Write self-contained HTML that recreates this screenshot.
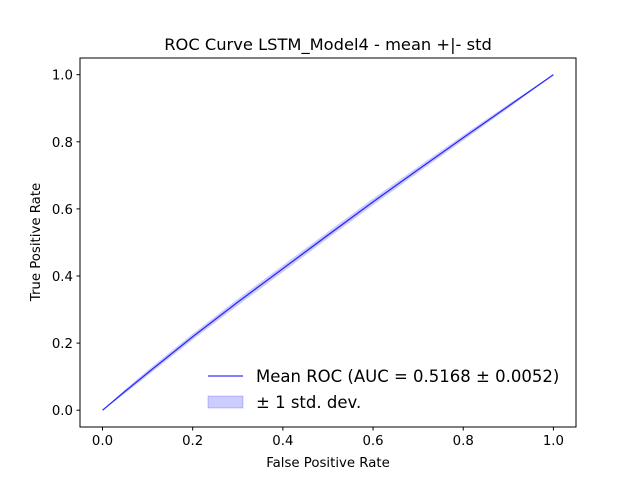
<!DOCTYPE html>
<html><head><meta charset="utf-8"><style>
body{margin:0;background:#fff}
svg{display:block;font-family:"DejaVu Sans","Liberation Sans",sans-serif}
</style></head><body>
<svg id="chart" width="640" height="480" viewBox="0 0 640 480">
<rect x="0" y="0" width="640" height="480" fill="#fff"/>
<text x="328" y="50" text-anchor="middle" font-size="16.3">ROC Curve LSTM_Model4 - mean +|- std</text>
<g id="plot"></g>
<rect x="80" y="58" width="496" height="369" fill="none" stroke="#000" stroke-width="1"/>
<text x="328" y="467" text-anchor="middle" font-size="13.3">False Positive Rate</text>
<text x="40" y="242" text-anchor="middle" font-size="13.3" transform="rotate(-90 40 242)">True Positive Rate</text>
<g>
<line x1="208" y1="376" x2="243" y2="376" stroke="#0000ff" stroke-opacity="0.8" stroke-width="1.3"/>
<text x="256" y="382" font-size="16.5">Mean ROC (AUC = 0.5168 ± 0.0052)</text>
<rect x="208" y="396" width="35" height="12" fill="#0000ff" fill-opacity="0.2" stroke="#0000ff" stroke-opacity="0.2"/>
<text x="256" y="408" font-size="16.5">± 1 std. dev.</text>
</g>
</svg>
<script>
const fpr=[0,0.05,0.1,0.2,0.3,0.4,0.5,0.6,0.7,0.8,0.9,1];
const tpr=[0,0.056,0.111,0.219,0.322,0.422,0.522,0.621,0.717,0.812,0.906,1];
const tprStd=[0,0.006,0.008,0.009,0.01,0.01,0.01,0.01,0.009,0.008,0.006,0];
const xTicks=[0,0.2,0.4,0.6,0.8,1.0];
const yTicks=[0,0.2,0.4,0.6,0.8,1.0];
const X=v=>102.5+v*450.9, Y=v=>410.2-v*335.5;
const ns="http://www.w3.org/2000/svg", g=document.getElementById('plot');
function mk(t,a){const e=document.createElementNS(ns,t);for(const k in a)e.setAttribute(k,a[k]);g.appendChild(e);return e;}
let up=fpr.map((f,i)=>X(f)+','+Y(Math.min(1,tpr[i]+tprStd[i])));
let lo=fpr.map((f,i)=>X(f)+','+Y(Math.max(0,tpr[i]-tprStd[i]))).reverse();
const band=mk('polygon',{points:up.concat(lo).join(' '),fill:'#0000ff','fill-opacity':0.2,stroke:'none'});


const line=mk('polyline',{points:fpr.map((f,i)=>X(f)+','+Y(tpr[i])).join(' '),fill:'none',stroke:'#0000ff','stroke-opacity':0.8,'stroke-width':1.3});


xTicks.forEach(t=>{
 const l=mk('line',{x1:X(t),x2:X(t),y1:427,y2:430.5,stroke:'#000'});
 
 
 const s=mk('text',{x:X(t),y:445,'text-anchor':'middle','font-size':13.3});
 s.textContent=t.toFixed(1);
 
 
});
yTicks.forEach(t=>{
 const l=mk('line',{x1:76.5,x2:80,y1:Y(t),y2:Y(t),stroke:'#000'});
 
 
 const s=mk('text',{x:73,y:Y(t)+5,'text-anchor':'end','font-size':13.3});
 s.textContent=t.toFixed(1);
 
 
});
</script>
</body></html>
